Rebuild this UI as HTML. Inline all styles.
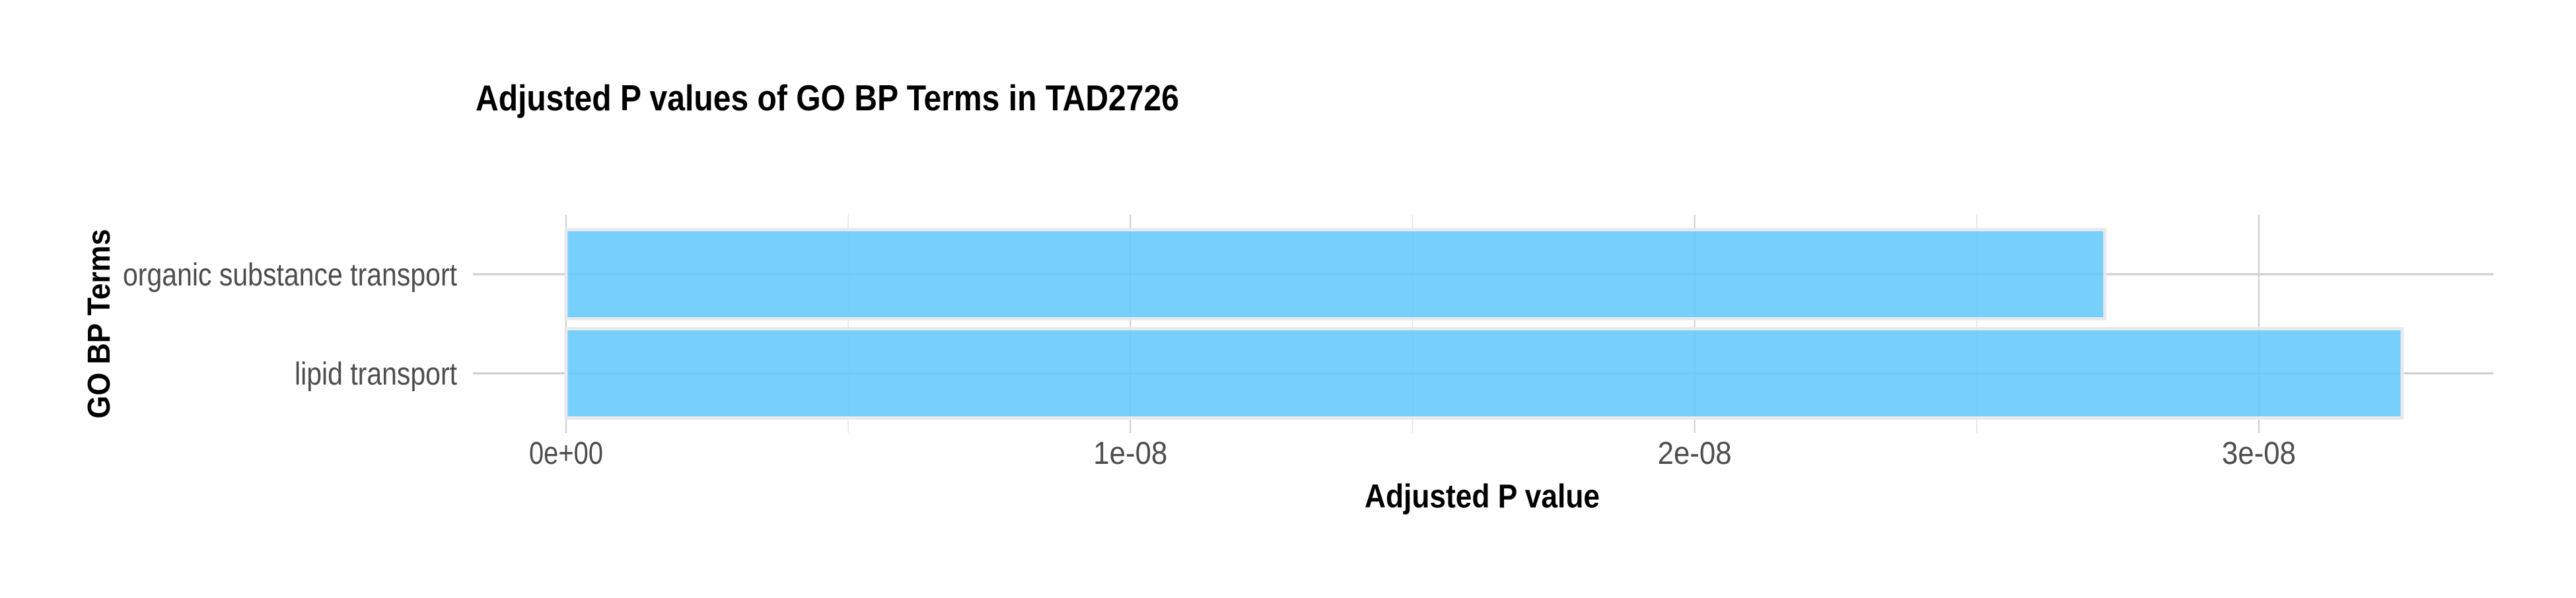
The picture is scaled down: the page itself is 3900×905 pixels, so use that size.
<!DOCTYPE html>
<html><head><meta charset="utf-8"><style>
body{margin:0;background:#fff;}
svg text{font-family:"Liberation Sans Narrow","Liberation Sans",sans-serif;}
</style></head><body>
<svg id="chart" width="3900" height="900" xmlns="http://www.w3.org/2000/svg">
<rect width="3900" height="900" fill="#fff"/>
<text x="720" y="167" font-size="55" font-weight="bold" fill="#000" textLength="1065" lengthAdjust="spacingAndGlyphs">Adjusted P values of GO BP Terms in TAD2726</text>
<g id="grid"></g><g id="bars"></g><g id="ticks"></g>
<text x="2244" y="768" font-size="50" font-weight="bold" text-anchor="middle" fill="#000" textLength="356" lengthAdjust="spacingAndGlyphs">Adjusted P value</text>
<text transform="translate(166,490) rotate(-90)" font-size="48" font-weight="bold" text-anchor="middle" fill="#000" style="font-family:'Liberation Sans',sans-serif" textLength="287" lengthAdjust="spacingAndGlyphs">GO BP Terms</text>
</svg>
<script>
const categories = ["organic substance transport", "lipid transport"];
const values = [2.727e-8, 3.254e-8];
const xTicks = [0, 1e-8, 2e-8, 3e-8];
const xTickLabels = ["0e+00", "1e-08", "2e-08", "3e-08"];
const NS = "http://www.w3.org/2000/svg";
const x0 = 857, pxPer = 854.3e8;
const xs = v => x0 + v * pxPer;
const catY = [415, 565];
const ys = i => catY[0] + i * (catY[1] - catY[0]);
const labelW = {"organic substance transport": 506, "lipid transport": 246};
const panelL = 716, panelR = 3775, panelT = 325, panelB = 655;
function mk(tag, attrs, parent){const e=document.createElementNS(NS,tag);for(const k in attrs)e.setAttribute(k,attrs[k]);parent.appendChild(e);return e;}
const grid = document.getElementById('grid'), bars = document.getElementById('bars'), ticks = document.getElementById('ticks');
for (let i = 0; i < xTicks.length; i++) {
  const m = xTicks[i] + 0.5e-8;
  if (xs(m) < panelR) {
    const l = mk('line', {x1: xs(m), x2: xs(m), y1: panelT, y2: panelB, stroke: '#e2e2e2', 'stroke-width': 1.5}, grid);
    
    
  }
}
xTicks.forEach((t, i) => {
  const l = mk('line', {x1: xs(t), x2: xs(t), y1: panelT, y2: panelB, stroke: '#cccccc', 'stroke-width': 2}, grid);
  
  
  const tx = mk('text', {x: xs(t), y: 702, 'font-size': 48, 'text-anchor': 'middle', fill: '#4d4d4d', textLength: 112, lengthAdjust: 'spacingAndGlyphs'}, ticks);
  tx.textContent = xTickLabels[i];
  
  
});
categories.forEach((c, i) => {
  const y = ys(i);
  const l = mk('line', {x1: panelL, x2: panelR, y1: y, y2: y, stroke: '#cccccc', 'stroke-width': 3}, grid);
  
  
  const h = 135;
  const r = mk('rect', {x: x0, y: y - h/2, width: xs(values[i]) - x0, height: h, fill: 'rgba(100,200,252,0.88)', stroke: '#e8e9ed', 'stroke-width': 5}, bars);
  
  
  const w = labelW[c] || c.length * 17.5;
  const tx = mk('text', {x: 692, y: y + 17, 'font-size': 48, 'text-anchor': 'end', fill: '#4d4d4d', textLength: w, lengthAdjust: 'spacingAndGlyphs'}, ticks);
  tx.textContent = c;
  
  
});
</script>
</body></html>
